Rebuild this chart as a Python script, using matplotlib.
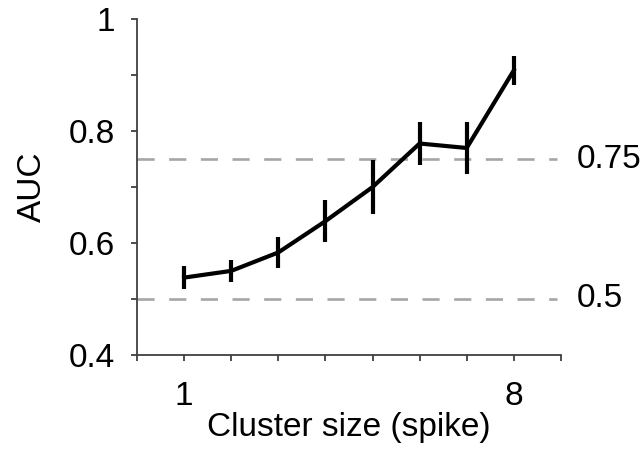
import numpy as np
import matplotlib
matplotlib.use('Agg')
import matplotlib.pyplot as plt

plt.rcParams['font.family'] = ['Liberation Sans', 'DejaVu Sans']

# mean AUC and error per cluster size
cluster_size = [1, 2, 3, 4, 5, 6, 7, 8]
auc_mean = [0.538, 0.550, 0.583, 0.639, 0.700, 0.778, 0.770, 0.909]
auc_err = [0.020, 0.020, 0.028, 0.038, 0.049, 0.038, 0.047, 0.026]

ref_levels = [0.75, 0.5]
ref_labels = ['0.75', '0.5']

fs = 24

fig = plt.figure(figsize=(6.44, 4.53), dpi=100)
ax = fig.add_axes([0.2127, 0.217, 0.871 - 0.2127, 0.957 - 0.217])

# chance / threshold reference lines
for lvl, lab in zip(ref_levels, ref_labels):
    ax.plot([0, 8.92], [lvl, lvl], color='#a6a6a6', lw=1.9,
            dashes=(6.5, 5.5), dash_capstyle='butt', zorder=1, clip_on=False)
    ax.text(9.33, lvl, lab, fontsize=fs, va='center', ha='left', color='black')

ax.errorbar(cluster_size, auc_mean, yerr=auc_err, color='black', lw=3.0,
            elinewidth=3.0, capsize=0, zorder=3)

ax.set_xlim(0, 9)
ax.set_ylim(0.4, 1.0)
ax.set_xticks(np.arange(0, 10))
ax.set_xticklabels(['' if v not in (1, 8) else str(v) for v in range(10)])
ax.set_yticks(np.arange(0.4, 1.01, 0.1))
ax.set_yticklabels(['0.4', '', '0.6', '', '0.8', '', '1'])

for side in ['top', 'right']:
    ax.spines[side].set_visible(False)
for side in ['left', 'bottom']:
    ax.spines[side].set_color('#404040')
    ax.spines[side].set_linewidth(1.3)

ax.tick_params(direction='out', length=4, width=1.3, color='#404040',
               labelsize=fs)
ax.tick_params(axis='x', pad=15)
ax.tick_params(axis='y', pad=12)
ax.set_xlabel('Cluster size (spike)', fontsize=fs, labelpad=0)
ax.set_ylabel('AUC', fontsize=fs, labelpad=15)

fig.savefig('out.png', dpi=100)
